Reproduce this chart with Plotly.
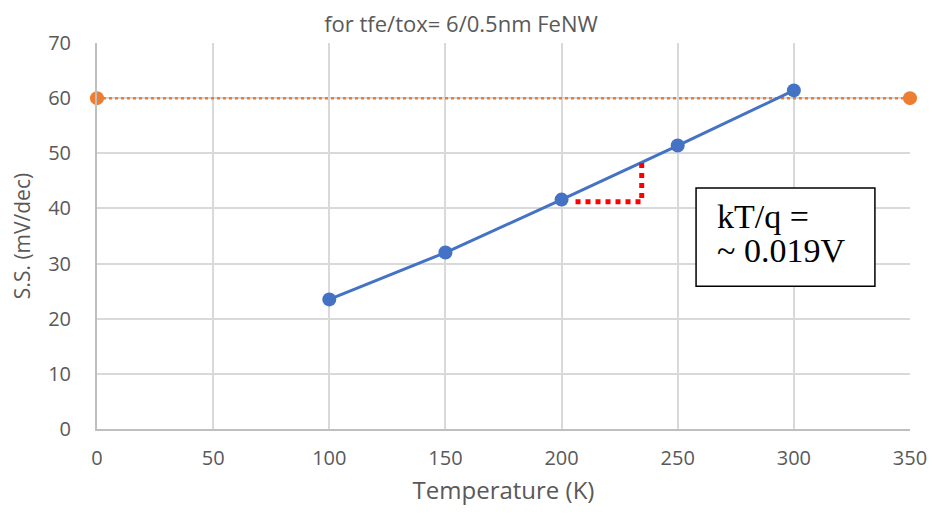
import plotly.graph_objects as go

# Data
temp_k = [100, 150, 200, 250, 300]
ss_mv_dec = [23.5, 32.0, 41.6, 51.4, 61.4]

limit_x = [0, 350]
limit_y = [60, 60]

# slope guide (red dotted)
slope_x = [206, 234.5, 234.5]
slope_y = [41.2, 41.2, 48.3]

# text box (data coords)
box_x = [257.9, 334.9]
box_y = [25.9, 43.7]
note_x = 266.2
note_lines = ["kT/q =", "~ 0.019V"]
note_line_y = [38.5, 32.3]

x_ticks = [0, 50, 100, 150, 200, 250, 300, 350]
y_ticks = [0, 10, 20, 30, 40, 50, 60, 70]

FIG_W, FIG_H = 927, 498

fig = go.Figure()

fig.add_trace(go.Scatter(
    x=limit_x, y=limit_y, mode="lines+markers",
    line=dict(color="#ED7D31", width=2.5, dash="dot"),
    marker=dict(color="#ED7D31", size=14),
    cliponaxis=False, showlegend=False, hoverinfo="skip"))

fig.add_trace(go.Scatter(
    x=temp_k, y=ss_mv_dec, mode="lines+markers",
    line=dict(color="#4472C4", width=3),
    marker=dict(color="#4472C4", size=14),
    cliponaxis=False, showlegend=False))

fig.add_trace(go.Scatter(
    x=slope_x, y=slope_y, mode="lines",
    line=dict(color="#FF0000", width=5, dash="dot"),
    showlegend=False, hoverinfo="skip"))

fig.add_shape(type="rect", xref="x", yref="y",
              x0=box_x[0], x1=box_x[1], y0=box_y[0], y1=box_y[1],
              line=dict(color="black", width=1.5), fillcolor="white", layer="above")

for txt, yy in zip(note_lines, note_line_y):
    fig.add_annotation(x=note_x, y=yy, xref="x", yref="y", text=txt,
                       showarrow=False, xanchor="left", yanchor="middle", align="left",
                       font=dict(family="Liberation Serif", size=34, color="black"))

tick_font = dict(family="Open Sans", size=20, color="#595959")

fig.update_layout(
    width=FIG_W, height=FIG_H,
    margin=dict(l=89, r=25, t=35, b=77, autoexpand=False),
    paper_bgcolor="white", plot_bgcolor="white",
    title=dict(text="for tfe/tox= 6/0.5nm FeNW", x=453 / FIG_W, xanchor="center",
               y=1 - 9 / FIG_H, yanchor="top",
               font=dict(family="Open Sans", size=22, color="#595959")),
    xaxis=dict(range=[0, 350], tickvals=x_ticks, showgrid=True, automargin=False,
               gridcolor="#D9D9D9", gridwidth=1.5, zeroline=False,
               showline=True, linecolor="#BFBFBF", linewidth=2,
               ticks="", tickfont=tick_font, ticklabelstandoff=10,
               title=dict(text="Temperature (K)", standoff=17,
                          font=dict(family="Open Sans", size=24, color="#595959"))),
    yaxis=dict(range=[0, 70], tickvals=y_ticks, showgrid=True, automargin=False,
               gridcolor="#D9D9D9", gridwidth=1.5, zeroline=False,
               showline=True, linecolor="#BFBFBF", linewidth=2,
               ticks="", tickfont=tick_font, ticklabelstandoff=20,
               title=dict(text="S.S. (mV/dec)", standoff=14,
                          font=dict(family="Open Sans", size=21, color="#595959"))),
)

fig.write_html("out.html")
